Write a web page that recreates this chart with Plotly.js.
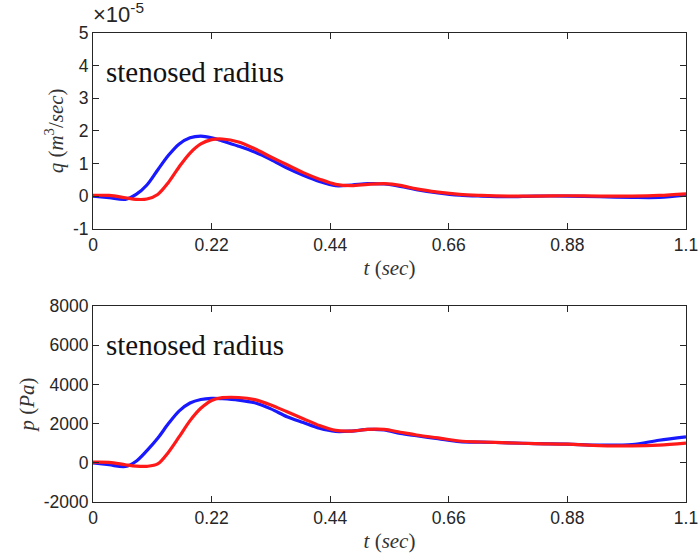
<!DOCTYPE html>
<html>
<head>
<meta charset="utf-8">
<script src="https://cdn.plot.ly/plotly-3.0.1.min.js"></script>
<style>html,body{margin:0;padding:0;background:#fff;}#chart{width:700px;height:560px;}</style>
</head>
<body>
<div id="chart"></div>
<script>
// time samples (s)
const t = [0,0.03,0.06,0.08,0.1,0.12,0.14,0.16,0.18,0.2,0.22,0.24,0.27,0.3,0.33,0.36,0.39,0.42,0.45,0.48,0.51,0.54,0.57,0.6,0.64,0.68,0.72,0.77,0.82,0.88,0.94,1.0,1.05,1.1];
// flow q, in units of 1e-5 m^3/sec
const qBlue = [0,-0.05,-0.1,0.05,0.34,0.8,1.25,1.6,1.79,1.84,1.79,1.69,1.53,1.35,1.12,0.86,0.64,0.45,0.32,0.34,0.38,0.37,0.3,0.2,0.1,0.03,0.0,-0.02,0.0,0.0,-0.02,-0.04,-0.04,0.03];
const qRed  = [0.02,0.02,-0.05,-0.1,-0.09,0.05,0.42,0.9,1.32,1.6,1.73,1.75,1.66,1.45,1.2,0.96,0.72,0.52,0.36,0.32,0.36,0.38,0.33,0.22,0.12,0.05,0.02,0.0,0.0,0.01,0.0,0.0,0.02,0.07];
// pressure p (Pa)
const pBlue = [0,-100,-190,80,620,1250,2000,2650,3050,3230,3290,3270,3200,3060,2750,2350,2050,1760,1600,1620,1700,1680,1500,1380,1230,1080,1050,1020,980,950,900,930,1150,1320];
const pRed  = [30,20,-100,-170,-180,-60,540,1330,2150,2780,3180,3320,3330,3220,2950,2600,2250,1900,1650,1620,1700,1700,1560,1420,1270,1110,1060,1020,980,950,880,860,900,1000];
const xTicks = [0,0.22,0.44,0.66,0.88,1.1];
const xTickText = ['0','0.22','0.44','0.66','0.88','1.1'];
const qTicks = [-1,0,1,2,3,4,5];
const qTickText = ['-1','0','1','2','3','4','5'];
const pTicks = [-2000,0,2000,4000,6000,8000];
const pTickText = ['-2000','0','2000','4000','6000','8000'];
const label = 'stenosed radius';

const blue = 'rgb(25,25,255)', red = 'rgb(255,25,25)';
const axCol = '#262626';
const tickFont = {family:'Liberation Sans, Arial, sans-serif', size:17.5, color:'#262626'};
const mathFont = {family:'Liberation Serif, Times New Roman, serif', size:21, color:'#333'};
const labelFont = {family:'Liberation Serif, Times New Roman, serif', size:29, color:'#111'};

function line(x,y,c,xa,ya){return {x:x,y:y,type:'scatter',mode:'lines',line:{color:c,width:3.2,shape:'spline',smoothing:0.9},xaxis:xa,yaxis:ya,hoverinfo:'skip',showlegend:false};}

const data = [
  line(t,qBlue,blue,'x','y'), line(t,qRed,red,'x','y'),
  line(t,pBlue,blue,'x2','y2'), line(t,pRed,red,'x2','y2')
];

function xax(anchor){return {domain:[0,1],anchor:anchor,range:[0,1.1],tickvals:xTicks,ticktext:xTickText,ticks:'inside',ticklen:6,tickcolor:axCol,showline:true,linecolor:axCol,linewidth:1,mirror:'ticks',showgrid:false,zeroline:false,tickfont:tickFont,
  title:{text:'<i>t</i> (<i>sec</i>)',font:mathFont,standoff:6}};}
function yax(anchor,dom,rng,ticks,txt,title){return {domain:dom,anchor:anchor,range:rng,tickvals:ticks,ticktext:txt,ticks:'inside',ticklen:6,tickcolor:axCol,showline:true,linecolor:axCol,linewidth:1,mirror:'ticks',showgrid:false,zeroline:false,tickfont:tickFont,
  title:{text:title,font:mathFont,standoff:3}};}

const layout = {
  width:700,height:560,paper_bgcolor:'#fff',plot_bgcolor:'#fff',
  margin:{l:93,r:14,t:33,b:58},
  xaxis:xax('y'), yaxis:yax('x',[0.5827,1],[-1,5],qTicks,qTickText,'<i>q</i> (<i>m</i><sup>3</sup>/<i>sec</i>)'),
  xaxis2:xax('y2'), yaxis2:yax('x2',[0,0.418],[-2000,8000],pTicks,pTickText,'<i>p</i> (<i>Pa</i>)'),
  annotations:[
    {xref:'x',yref:'y',x:0.02,y:3.8,text:label,showarrow:false,xanchor:'left',yanchor:'middle',font:labelFont},
    {xref:'x2',yref:'y2',x:0.02,y:6000,text:label,showarrow:false,xanchor:'left',yanchor:'middle',font:labelFont},
    {xref:'paper',yref:'paper',x:-0.003,y:1.042,text:'×10<sup>-5</sup>',showarrow:false,xanchor:'left',yanchor:'middle',font:{family:'Liberation Sans, Arial, sans-serif',size:22,color:'#262626'}}
  ]
};
Plotly.newPlot('chart',data,layout,{staticPlot:true,displayModeBar:false});
</script>
</body>
</html>
